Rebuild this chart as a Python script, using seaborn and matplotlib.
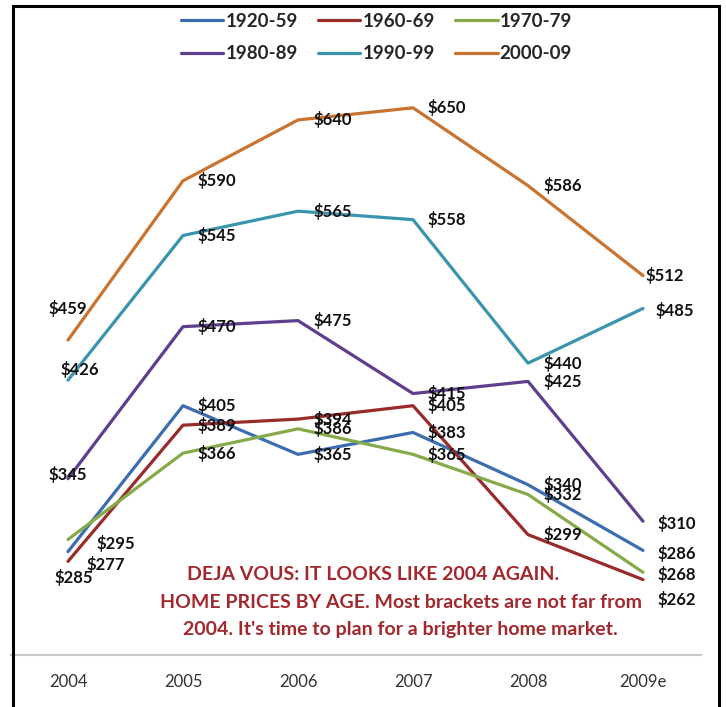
import pandas as pd
import matplotlib.pyplot as plt
import seaborn as sns
from matplotlib.patches import Rectangle

years = ["2004", "2005", "2006", "2007", "2008", "2009e"]
brackets = ["1920-59", "1960-69", "1970-79", "1980-89", "1990-99", "2000-09"]
p_1920_59 = [285, 405, 365, 383, 340, 286]
p_1960_69 = [277, 389, 394, 405, 299, 262]
p_1970_79 = [295, 366, 386, 365, 332, 268]
p_1980_89 = [345, 470, 475, 415, 425, 310]
p_1990_99 = [426, 545, 565, 558, 440, 485]
p_2000_09 = [459, 590, 640, 650, 586, 512]

colors = {"1920-59": "#3b6db0", "1960-69": "#9a2b2b", "1970-79": "#86aa4a",
          "1980-89": "#5f3d8f", "1990-99": "#3a94ae", "2000-09": "#c9732f"}

df = pd.DataFrame({"Year": years, "1920-59": p_1920_59, "1960-69": p_1960_69,
                   "1970-79": p_1970_79, "1980-89": p_1980_89,
                   "1990-99": p_1990_99, "2000-09": p_2000_09})
long = df.melt(id_vars="Year", var_name="Bracket", value_name="Price")

sns.set_style("white")
plt.rcParams["font.family"] = ["Lato", "DejaVu Sans"]

fig = plt.figure(figsize=(7.26, 7.07), dpi=100)
W, H = 726, 707
ax = fig.add_axes([10.5 / W, 1 - 655 / H, 690 / W, 608 / H])

sns.lineplot(data=long, x="Year", y="Price", hue="Bracket", hue_order=brackets,
             palette=colors, linewidth=2.3, sort=False, ax=ax)
ax.set_xlim(-0.5, 5.5)
ax.set_ylim(200, 700)

# label placement (pixel offsets) where the default "to the right" is not used
special = {
    ("2000-09", 0): (0, 32, "center"), ("1990-99", 0): (12, 11, "center"),
    ("1980-89", 0): (0, 4, "center"), ("1920-59", 0): (6, -26, "center"),
    ("1960-69", 0): (38, -3, "center"), ("1970-79", 0): (48, -4, "center"),
    ("2000-09", 5): (2, 0, "left"), ("1990-99", 5): (12, -2, "left"),
    ("1980-89", 5): (14, -2, "left"), ("1920-59", 5): (14, -3, "left"),
    ("1970-79", 5): (14, -2, "left"), ("1960-69", 5): (14, -20, "left"),
}
for b in brackets:
    for i, v in enumerate(df[b]):
        dx, dy, ha = special.get((b, i), (15, 0, "left"))
        ax.annotate(f"${v}", xy=(i, v), xytext=(dx, dy), textcoords="offset pixels",
                    ha=ha, va="center", fontsize=12, fontweight="bold", color="#111111")

handles, labels = ax.get_legend_handles_labels()
ax.get_legend().remove()
# legend fills column by column, so reorder to read row by row
order = [0, 3, 1, 4, 2, 5]
fig.legend([handles[k] for k in order], [labels[k] for k in order],
           loc="center", bbox_to_anchor=(376.5 / W, 1 - 37.5 / H),
           ncol=3, frameon=False, prop={"size": 13.5, "weight": "bold"},
           handlelength=2.25, handletextpad=0.1, columnspacing=1.1, labelspacing=0.85)

for s in ["left", "right", "top"]:
    ax.spines[s].set_visible(False)
ax.spines["bottom"].set_color("#c8c8c8")
ax.spines["bottom"].set_linewidth(1.5)
ax.set_yticks([])
ax.tick_params(axis="x", length=0, pad=14, labelsize=12, labelcolor="#333333")
ax.set_xlabel("")
ax.set_ylabel("")

red = "#a3282d"
fig.text(373 / W, 1 - 575 / H, "DEJA VOUS: IT LOOKS LIKE 2004 AGAIN.",
         ha="center", va="center", fontsize=14, fontweight="bold", color=red)
fig.text(401 / W, 1 - 603 / H, "HOME PRICES BY AGE. Most brackets are not far from",
         ha="center", va="center", fontsize=14, fontweight="bold", color=red)
fig.text(400 / W, 1 - 630 / H, "2004. It's time to plan for a brighter home market.",
         ha="center", va="center", fontsize=14, fontweight="bold", color=red)

fig.add_artist(Rectangle((13 / W, -0.05), 706 / W, 1.05 - 6 / H, transform=fig.transFigure,
                         fill=False, edgecolor="black", linewidth=2.2, clip_on=False))

fig.savefig("out.png", dpi=100)
